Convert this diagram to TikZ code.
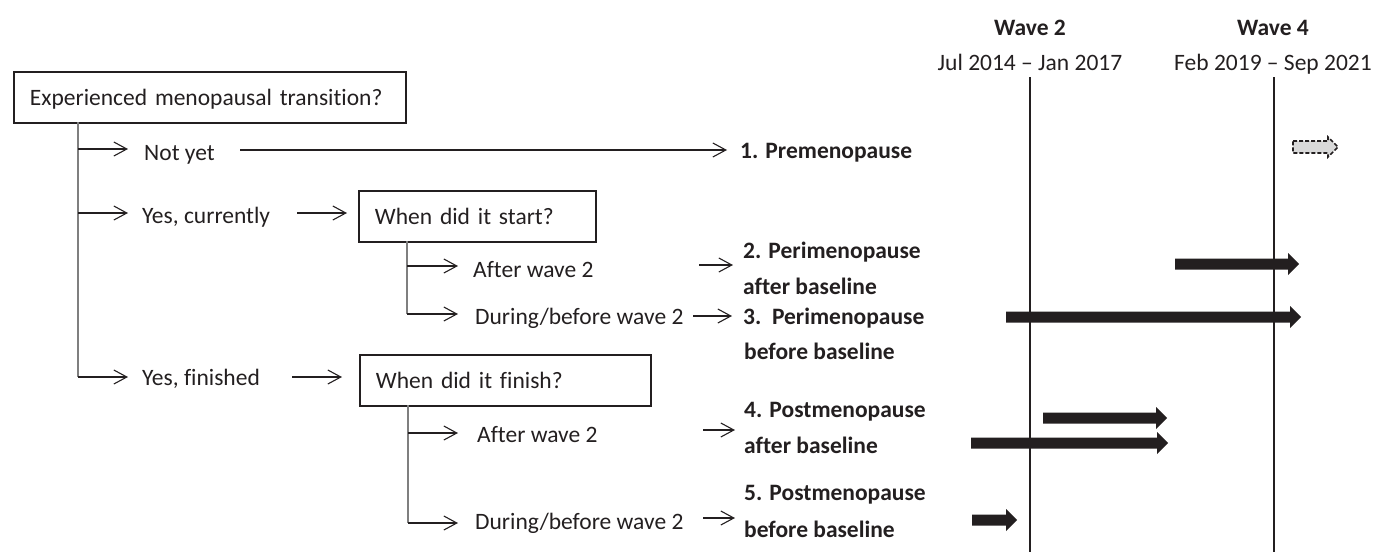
\documentclass[tikz,border=0pt]{standalone}
\usepackage{fontspec}
\setmainfont[Ligatures=NoCommon]{Carlito}
\usetikzlibrary{arrows.meta}
\definecolor{ink}{HTML}{231F20}
\definecolor{trunkgray}{HTML}{7F7F7F}
\definecolor{ghost}{HTML}{D9D9D9}
\newcommand\fatarrow[3]{\fill[ink] (#1,#3-5.5) -- (#2-11,#3-5.5) -- (#2-11,#3-11) -- (#2,#3) -- (#2-11,#3+11) -- (#2-11,#3+5.5) -- (#1,#3+5.5) -- cycle;}
\tikzset{
  every node/.style={font=\fontsize{23.5pt}{28pt}\selectfont, text=ink},
  qbox/.style={draw=ink, line width=1.8pt, anchor=north west, inner xsep=16pt, inner ysep=0pt,
    minimum height=51pt, text height=16pt, text depth=0pt, align=left},
  lbl/.style={anchor=base west, inner sep=0pt},
  blbl/.style={anchor=base west, inner sep=0pt, font=\fontsize{23.5pt}{28pt}\selectfont\bfseries},
  hdr/.style={anchor=base, inner sep=0pt, font=\fontsize{23.5pt}{28pt}\selectfont\bfseries},
  dte/.style={anchor=base, inner sep=0pt},
  trunk/.style={draw=trunkgray, line width=1.8pt},
  br/.style={draw=ink, line width=1.1pt, -{Straight Barb[length=13pt,width=14pt,line width=1.1pt]}},
  waveline/.style={draw=ink, line width=2.5pt},
}
\begin{document}
\begin{tikzpicture}[x=1pt,y=-1pt]
\useasboundingbox (0,0) rectangle (1376,552);

% header
\node[hdr] (w2) at (1030,35) {Wave 2};
\node[dte] (w2d) at (1030,70) {Jul 2014 – Jan 2017};
\node[hdr] (w4) at (1273,35) {Wave 4};
\node[dte] (w4d) at (1273,70) {Feb 2019 – Sep 2021};
\coordinate (w2top) at (1030,77);
\coordinate (w2bot) at (1030,552);
\coordinate (w4top) at (1274,77);
\coordinate (w4bot) at (1274,552);
\draw[waveline] (w2top) -- (w2bot);
\draw[waveline] (w4top) -- (w4bot);

% boxes
\node[qbox, text width=360pt] (q1) at (13,71) {Experienced menopausal transition?};
\node[qbox, text width=205pt] (q2) at (358,190) {When did it start?};
\node[qbox, text width=259pt] (q3) at (359,354) {When did it finish?};

% first-level answers
\node[lbl] (ny) at (144,160) {Not yet};
\node[lbl] (yc) at (142,223) {Yes, currently};
\node[lbl] (yf) at (142,385) {Yes, finished};

% second-level answers
\node[lbl] (a2) at (473,277) {After wave 2};
\node[lbl] (d2) at (475,324) {During/before wave 2};
\node[lbl] (a4) at (477,442) {After wave 2};
\node[lbl] (d4) at (475,529) {During/before wave 2};

% categories
\node[blbl] (c1) at (740,158) {1. Premenopause};
\node[blbl] (c2) at (743,258) {2. Perimenopause};
\node[blbl] (c2b) at (743,294) {after baseline};
\node[blbl] (c3) at (743,324) {3.\ \ Perimenopause};
\node[blbl] (c3b) at (744,359) {before baseline};
\node[blbl] (c4) at (744,417) {4. Postmenopause};
\node[blbl] (c4b) at (744,453) {after baseline};
\node[blbl] (c5) at (744,500) {5. Postmenopause};
\node[blbl] (c5b) at (744,537) {before baseline};

% trunk and branches
\coordinate (T0) at (78,122);
\coordinate (T1) at (78,149);
\coordinate (T2) at (78,213);
\coordinate (T3) at (78,377);
\draw[trunk] (T0) -- (T3);
\draw[br] (T1) -- (128,149);
\draw[br] (T2) -- (128,213);
\draw[br] (T3) -- (128,377);
\draw[br] (240,150) -- (727,150);
\draw[br] (297,213) -- (347,213);
\draw[br] (292,377) -- (342,377);

% sub-trunks
\coordinate (S0) at (407,241);
\coordinate (S1) at (407,266);
\coordinate (S2) at (407,314);
\draw[trunk] (S0) -- (S2);
\draw[br] (S1) -- (458,266);
\draw[br] (S2) -- (458,314);
\coordinate (R0) at (408,405);
\coordinate (R1) at (408,433);
\coordinate (R2) at (408,523);
\draw[trunk] (R0) -- (R2);
\draw[br] (R1) -- (458,433);
\draw[br] (R2) -- (458,523);

% arrows to categories
\draw[br] (699,265) -- (733,265);
\draw[br] (693,316) -- (732,316);
\draw[br] (703,430) -- (735,430);
\draw[br] (703,518) -- (735,518);

% timeline bars
\fatarrow{1175}{1299}{264}
\fatarrow{1006}{1301}{317}
\fatarrow{1043}{1167}{418}
\fatarrow{971}{1168}{443}
\fatarrow{972}{1017}{520}
\draw[ink, fill=ghost, dash pattern=on 4pt off 2pt, line width=1.6pt, line join=miter]
  (1293,141) -- (1328,141) -- (1328,137) -- (1338,147) -- (1328,157) -- (1328,153) -- (1293,153) -- cycle;
\end{tikzpicture}
\end{document}
